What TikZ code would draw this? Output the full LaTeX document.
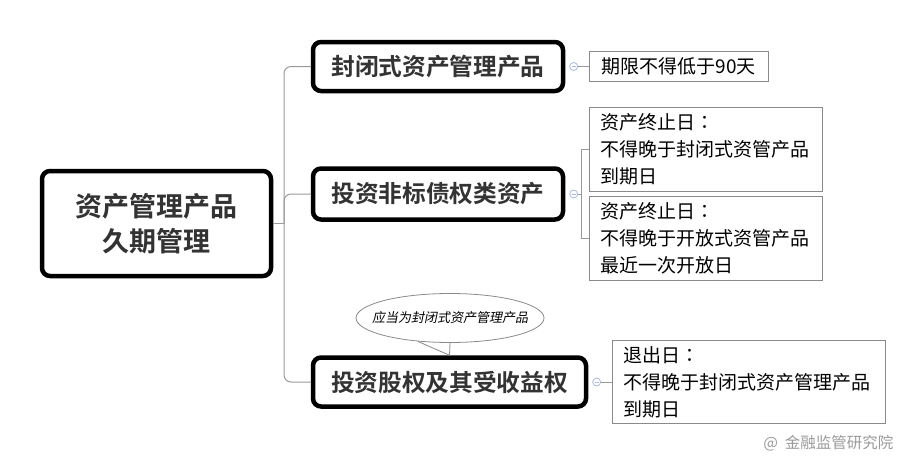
\documentclass[tikz,border=0pt]{standalone}
\usepackage{fontspec}
\setmainfont{Noto Sans CJK SC}[BoldFont={Noto Sans CJK SC Bold}]
\newfontfamily\slfont{Noto Sans CJK SC}[FakeSlant=0.2]
\newfontfamily\tcfont{Noto Sans CJK TC}
\newcommand\colonmark{{\tcfont ：}}
\usetikzlibrary{positioning,shapes.geometric}
\definecolor{textgray}{HTML}{333333}
\definecolor{boxgray}{HTML}{8A8A8A}
\definecolor{linegray}{HTML}{9A9A9A}
\definecolor{markblue}{HTML}{A9B9E6}
\definecolor{wmgray}{HTML}{9A9A9A}

\begin{document}
\begin{tikzpicture}[x=1pt, y=-1pt,
  topic/.style={draw=black, line width=4.5pt, rounded corners=8pt, fill=white, align=center,
    inner sep=0pt, text=textgray, font=\fontsize{23.7}{28}\selectfont\bfseries},
  leaf/.style={draw=boxgray, line width=1pt, fill=white, align=left, inner xsep=11pt, inner ysep=3pt,
    text=black, font=\fontsize{19}{27}\selectfont},
  tree/.style={draw=linegray, line width=1pt},
  fold/.style={circle, draw=markblue, line width=0.8pt, fill=white, minimum size=8pt, inner sep=0pt,
    path picture={\draw[markblue, line width=0.8pt] ([xshift=-2pt]path picture bounding box.center) -- ([xshift=2pt]path picture bounding box.center);}}]
  \useasboundingbox (0,0) rectangle (923,463);
  % topics
  \node[topic, minimum width=229pt, minimum height=105pt, font=\fontsize{27}{35}\selectfont\bfseries] (rt) at (156.5,223.5) {资产管理产品\\久期管理};
  \node[topic, minimum width=250pt, minimum height=49pt] (b1) at (438,66.5) {封闭式资产管理产品};
  \node[topic, minimum width=250pt, minimum height=51pt] (b2) at (438,194) {投资非标债权类资产};
  \node[topic, minimum width=273pt, minimum height=49pt] (b3) at (449.5,382) {投资股权及其受收益权};
  \node[fold, right=4pt of b1] (f1) {};
  \node[fold, right=4pt of b2] (f2) {};
  \node[fold, right=4pt of b3] (f3) {};
  % leaves
  \node[leaf, inner xsep=6pt, minimum width=179pt, minimum height=30pt] (l1) at (678.5,66.5) {期限不得低于90天};
  \node[leaf, text width=211pt, minimum height=84pt] (l2a) at (705.5,149) {资产终止日\colonmark\\不得晚于封闭式资管产品\\到期日};
  \node[leaf, text width=211pt, minimum height=84pt] (l2b) at (705.5,238) {资产终止日\colonmark\\不得晚于开放式资管产品\\最近一次开放日};
  \node[leaf, text width=251pt, minimum height=83pt] (l3) at (748.5,382) {退出日\colonmark\\不得晚于封闭式资产管理产品\\到期日};
  % callout
  \node[ellipse, draw=boxgray, line width=0.8pt, fill=white, minimum width=188pt, minimum height=49pt,
    inner xsep=-20pt, inner ysep=0pt, font=\slfont\fontsize{13}{14}\selectfont] (nt) at (450,318) {应当为封闭式资产管理产品};
  \draw[boxgray, line width=0.8pt] (nt.216) -- (b3.north) -- (nt.south);
  % connectors
  \coordinate (j) at (284,223.5);
  \draw[tree] (rt.east) -- (j);
  \draw[tree, rounded corners=7pt] (b1.west) -| (j) |- (b3.west);
  \draw[tree, rounded corners=7pt] (j) |- (b2.west);
  \draw[tree] (f1.east) -- (l1.west);
  \draw[tree] (f2.east) -- ++(3,0) |- (l2a.west);
  \draw[tree] (f2.east) ++(3,0) |- (l2b.west);
  \draw[tree] (f3.east) -- (l3.west);
  \node[anchor=east, text=wmgray, font=\fontsize{15.5}{16}\selectfont] (wm) at (897,443) {@\ \ 金融监管研究院};
\end{tikzpicture}
\end{document}
